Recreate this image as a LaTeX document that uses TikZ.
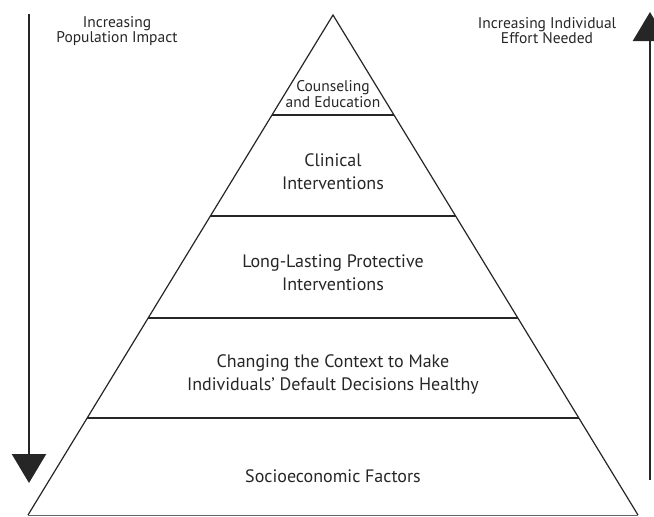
\documentclass[tikz,border=0pt]{standalone}
\usepackage{fontspec}
\setmainfont{PT Sans}
\usetikzlibrary{arrows.meta}
\begin{document}
\begin{tikzpicture}[x=1pt,y=-1pt,
  tier/.style={align=center,font=\fontsize{18}{23}\selectfont,text=black!85},
  small/.style={align=center,font=\fontsize{15.5}{15.5}\selectfont,text=black!85},
  side/.style={align=center,font=\fontsize{15.5}{15}\selectfont,text=black!85},
  pyr/.style={line width=1.2pt,black!85},
  bigarrow/.style={line width=2.6pt,black!85,-{Triangle[width=34pt,length=29pt]}}]
\useasboundingbox (0,0) rectangle (654,517);
\clip (0,0) rectangle (654,517);
% pyramid
\coordinate (apex) at (333,15);
\coordinate (bl) at (28,515);
\coordinate (br) at (638,515);
\coordinate (l1) at (272,115);   \coordinate (r1) at (394,115);
\coordinate (l2) at (210.4,216); \coordinate (r2) at (455.6,216);
\coordinate (l3) at (148.2,318); \coordinate (r3) at (517.8,318);
\coordinate (l4) at (87.2,418);  \coordinate (r4) at (578.8,418);
\draw[pyr,line join=miter] (bl) -- (apex) -- (br);
\draw[black!60,line width=0.8pt] (bl) -- (br);
\draw[pyr] (l1) -- (r1);
\draw[pyr] (l2) -- (r2);
\draw[pyr] (l3) -- (r3);
\draw[pyr] (l4) -- (r4);
% texts
\node[small] (t1) at (333,94) {Counseling\\and Education};
\node[tier] (t2) at (333,172) {Clinical\\Interventions};
\node[tier] (t3) at (333,273) {Long-Lasting Protective\\Interventions};
\node[tier] (t4) at (333,374) {Changing the Context to Make\\Individuals’ Default Decisions Healthy};
\node[tier] (t5) at (333,476) {Socioeconomic Factors};
% side arrows
\coordinate (ltop) at (29,14);
\coordinate (lbot) at (29,483);
\draw[bigarrow] (ltop) -- (lbot);
\coordinate (rbot) at (650,480);
\coordinate (rtop) at (650,12);
\draw[bigarrow] (rbot) -- (rtop);
\node[side] (lab1) at (117,31) {Increasing\\Population Impact};
\node[side] (lab2) at (547,31) {Increasing Individual\\Effort Needed};
\end{tikzpicture}
\end{document}
